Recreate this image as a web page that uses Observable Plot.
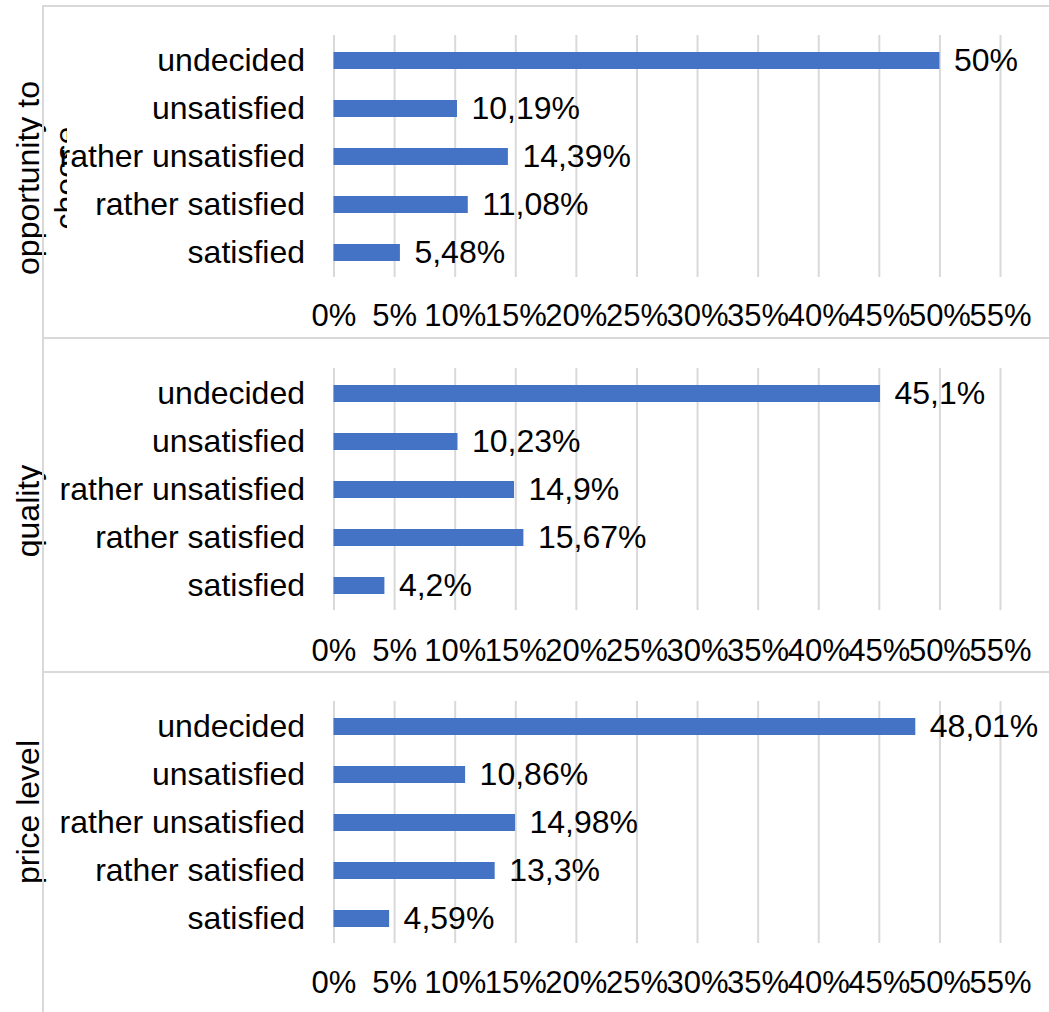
<!DOCTYPE html>
<html>
<head>
<meta charset="utf-8">
<script src="https://cdn.jsdelivr.net/npm/d3@7"></script>
<script src="https://cdn.jsdelivr.net/npm/@observablehq/plot@0.6"></script>
<style>
  body { margin: 0; background: #fff; }
  #chart { position: relative; width: 1049px; height: 1012px; overflow: hidden; font-family: "Liberation Sans", Arial, sans-serif; }
  .panel { position: absolute; left: 0; width: 1049px; }
  .panel svg { position: absolute; left: 0; top: 0; }
  .border { position: absolute; left: 42px; right: 0; top: 0; bottom: 0; border-top: 2px solid #d9d9d9; border-left: 2px solid #d9d9d9; pointer-events: none; }
</style>
</head>
<body>
<div id="chart"></div>
<script>
// ---- data ----
const categories = ["undecided", "unsatisfied", "rather unsatisfied", "rather satisfied", "satisfied"];
const groupTitles = [["opportunity to", "choose"], ["quality"], ["price level"]];
const opportunityValues = [50, 10.19, 14.39, 11.08, 5.48];
const qualityValues = [45.1, 10.23, 14.9, 15.67, 4.2];
const priceValues = [48.01, 10.86, 14.98, 13.3, 4.59];
const xTicks = [0, 5, 10, 15, 20, 25, 30, 35, 40, 45, 50, 55];

const seriesValues = [opportunityValues, qualityValues, priceValues];

// ---- layout ----
const layout = [
  { top: 5,   height: 332, marginTop: 30, tickPadding: 26, titleY: 173 },
  { top: 337, height: 334, marginTop: 31, tickPadding: 28, titleY: 174 },
  { top: 671, height: 341, marginTop: 30, tickPadding: 27, titleY: 141 }
];
const plotH = 242;
const FONT = '"Liberation Sans", Arial, sans-serif';
const FS = 32;
const fmt = v => String(v).replace(".", ",") + "%";

const chart = document.getElementById("chart");

layout.forEach((L, k) => {
  const data = categories.map((c, i) => ({ category: c, value: seriesValues[k][i] }));
  const svg = Plot.plot({
    width: 1049,
    height: L.height,
    marginLeft: 333.5,
    marginRight: 49,
    marginTop: L.marginTop,
    marginBottom: L.height - L.marginTop - plotH,
    style: { fontFamily: FONT, fontSize: FS + "px", color: "#000", background: "transparent", overflow: "visible" },
    x: { domain: [0, 55] },
    y: { domain: categories, paddingInner: 0.65, paddingOuter: 0.325 },
    marks: [
      Plot.gridX(xTicks, { stroke: "#d9d9d9", strokeOpacity: 1, strokeWidth: 2 }),
      Plot.barX(data, { x: "value", y: "category", fill: "#4472C4" }),
      Plot.text(data, { x: "value", y: "category", text: d => fmt(d.value), textAnchor: "start", dx: 14, fontSize: FS, fill: "#000" }),
      Plot.axisY({ tickSize: 0, tickPadding: 29, fontSize: FS, label: null }),
      Plot.axisX(xTicks, { tickSize: 0, tickPadding: L.tickPadding, tickFormat: d => d + "%", fontSize: 31, label: null })
    ]
  });

  // rotated group title (wrapped like the original, second line clipped)
  const sel = d3.select(svg);
  const clipId = "titleclip" + k;
  sel.append("defs").append("clipPath").attr("id", clipId)
    .append("rect").attr("x", 0).attr("y", 0).attr("width", 67).attr("height", L.height);
  const g = sel.append("g").attr("font-family", FONT).attr("font-size", FS).attr("fill", "#000");
  groupTitles[k].forEach((line, i) => {
    const holder = i === 0 ? g : g.append("g").attr("clip-path", `url(#${clipId})`);
    holder.append("text")
      .attr("transform", `translate(${39 + i * 38},${L.titleY}) rotate(-90)`)
      .attr("text-anchor", "middle")
      .text(line);
  });

  const panel = document.createElement("div");
  panel.className = "panel";
  panel.style.top = L.top + "px";
  panel.style.height = L.height + "px";
  panel.appendChild(svg);
  const border = document.createElement("div");
  border.className = "border";
  panel.appendChild(border);
  chart.appendChild(panel);
});
</script>
</body>
</html>
